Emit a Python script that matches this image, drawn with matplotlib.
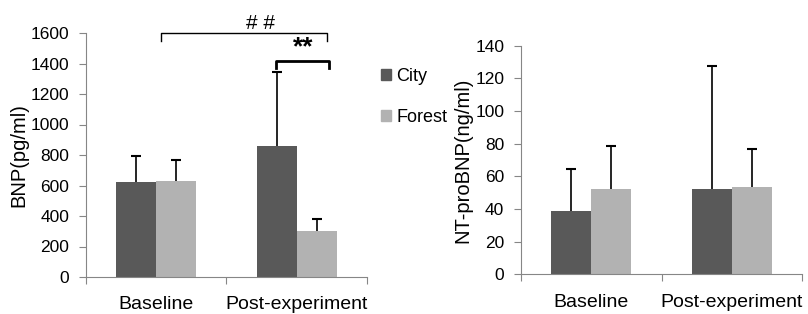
import numpy as np
import matplotlib.pyplot as plt
from matplotlib.patches import Patch

plt.rcParams['font.family'] = ['Liberation Sans', 'DejaVu Sans']

# data
groups = ['Baseline', 'Post-experiment']
series = ['City', 'Forest']
bnp_city = [625, 859]
bnp_city_err = [168, 483]
bnp_forest = [630, 304]
bnp_forest_err = [137, 78]
nt_city = [38.8, 52]
nt_city_err = [25.5, 75.7]
nt_forest = [52, 53.6]
nt_forest_err = [26.6, 22.9]

dark = '#595959'
light = '#b2b2b2'
axis_col = '#868686'

fig = plt.figure(figsize=(8.08, 3.14), dpi=100)
W, H = 808, 314
ax1 = fig.add_axes([86 / W, 1 - 277 / H, 281 / W, 244 / H])
ax2 = fig.add_axes([521 / W, 1 - 274.3 / H, 281 / W, 228.6 / H])

bw = 1 / 3.5
x = np.arange(len(groups)) + 0.5


def draw(ax, city, city_err, forest, forest_err, ymax, step, ylabel):
    for xs, vals, errs, col in [(x - bw / 2, city, city_err, dark),
                                (x + bw / 2, forest, forest_err, light)]:
        ax.bar(xs, vals, bw, color=col, edgecolor='none', zorder=2)
        tops = np.array(vals) + np.array(errs)
        # upper error bar only, excel style
        ax.vlines(xs, vals, tops, color='black', lw=1.2, zorder=3)
        ax.plot(xs, tops, ls='none', marker='_', ms=7, mew=1.5, color='black',
                zorder=3, clip_on=False)
    ax.set_xlim(0, 2)
    ax.set_ylim(0, ymax)
    ax.set_yticks(np.arange(0, ymax + 1, step))
    ax.set_xticks([0, 1, 2])
    ax.set_xticklabels([])
    ax.set_xticks(x, minor=True)
    ax.set_xticklabels(groups, minor=True, fontsize=14)
    ax.tick_params(axis='x', which='minor', length=0, pad=14)
    ax.tick_params(axis='x', which='major', length=5, color=axis_col)
    ax.tick_params(axis='y', length=5, color=axis_col, labelsize=12.5, pad=7)
    for s in ['top', 'right']:
        ax.spines[s].set_visible(False)
    for s in ['left', 'bottom']:
        ax.spines[s].set_color(axis_col)
    ax.set_ylabel(ylabel, fontsize=14.5, labelpad=2)


draw(ax1, bnp_city, bnp_city_err, bnp_forest, bnp_forest_err, 1600, 200, 'BNP(pg/ml)')
draw(ax2, nt_city, nt_city_err, nt_forest, nt_forest_err, 140, 20, 'NT-proBNP(ng/ml)')

# significance brackets
ax1.plot([0.534, 0.534, 1.713, 1.713], [1545, 1600, 1600, 1545], color='black',
         lw=1, clip_on=False)
ax1.text(1.24, 1603, '# #', ha='center', va='bottom', fontsize=15)
ax1.plot([1.352, 1.352, 1.73, 1.73], [1370, 1418, 1418, 1370], color='black',
         lw=2, clip_on=False)
ax1.text(1.545, 1425, '**', ha='center', va='bottom', fontsize=19, fontweight='bold')

handles = [Patch(color=dark), Patch(color=light)]
fig.legend(handles, series, loc='upper left', bbox_to_anchor=(365 / W, 1 - 52 / H),
           frameon=False, fontsize=13, handlelength=0.55, handleheight=0.55,
           handletextpad=0.3, labelspacing=1.3)

fig.savefig('out.png', dpi=100)
